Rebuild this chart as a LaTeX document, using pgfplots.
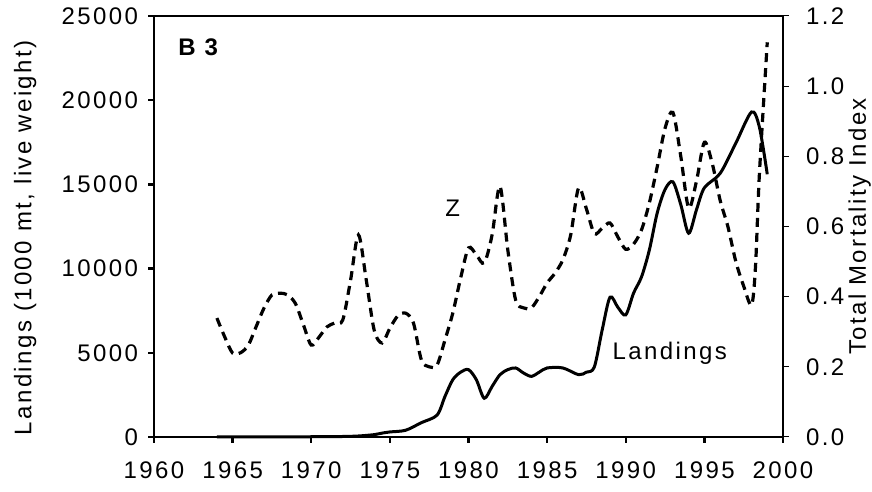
\documentclass[border=0pt]{standalone}
\usepackage{fontspec}
\setmainfont{Liberation Sans}[LetterSpace=10]
\usepackage{pgfplots}
\pgfplotsset{compat=1.18}

\begin{document}
\begin{tikzpicture}
\pgfplotsset{
  base/.style={
    scale only axis, width=314.5pt, height=210.5pt,
    xmin=1960, xmax=2000,
    tick align=outside, major tick length=3pt,
    ticklabel style={font=\fontsize{12}{14}\selectfont},
    label style={font=\fontsize{12}{14}\selectfont},
    /pgf/number format/assume math mode=true,
    /pgf/number format/1000 sep={},
    axis line style={line width=1.4pt},
  }
}
\begin{axis}[base,
  ymin=0, ymax=25000,
  xtick={1960,1965,...,2000}, ytick={0,5000,...,25000},
  xtick pos=lower, ytick pos=left,
  tick style={line width=1.2pt, black},
  xticklabel style={yshift=-6pt},
  yticklabel style={xshift=-1.5pt},
  scaled y ticks=false,
  ylabel={Landings (1000 mt, live weight)},
  ylabel style={at={(axis description cs:-0.205,0.473)}, anchor=center},
  clip=false,
]
\coordinate (bl) at (rel axis cs:0,0);
\coordinate (tr) at (rel axis cs:1,1);
% landings, solid
\addplot[black, line width=1.5pt, smooth, tension=0.5] coordinates {
  (1964,5)(1966,8)(1968,10)(1970,15)(1972,30)(1973,60)(1974,140)(1974.5,230)
  (1975,300)(1976,400)(1977,850)(1978,1300)(1978.5,2400)(1979,3400)(1979.5,3850)
  (1980,4000)(1980.5,3400)(1981,2300)(1981.5,3000)(1982,3700)(1982.5,4000)
  (1983,4100)(1983.5,3800)(1984,3600)(1984.5,3850)(1985,4100)(1986,4100)
  (1987,3700)(1987.5,3850)(1988,4150)(1988.5,6350)(1989,8300)(1989.5,7700)
  (1990,7250)(1990.5,8550)(1991,9500)(1991.5,11100)(1992,13300)(1992.5,14700)
  (1993,15150)(1993.5,13800)(1994,12100)(1994.5,13500)(1995,14800)(1996,15650)
  (1997,17450)(1998,19300)(1998.5,18400)(1999,15600)};
\node[font=\fontsize{12}{14}\selectfont\bfseries, anchor=west] at (axis cs:1961.1,23160) {B 3};
\node[font=\fontsize{12}{14}\selectfont] at (axis cs:1979,13600) {Z};
\node[font=\fontsize{12}{14}\selectfont] at (axis cs:1992.8,4990) {Landings};
\end{axis}
\begin{axis}[base,
  ymin=0, ymax=1.2,
  ytick={0,0.2,...,1.2},
  axis y line*=right, axis x line=none,
  tick style={line width=0.5pt, black},
  yticklabel style={xshift=5pt, /pgf/number format/.cd, fixed, fixed zerofill, precision=1},
  ylabel={Total Mortality Index},
  ylabel style={at={(axis description cs:1.122,0.5)}, anchor=center},
]
% total mortality index Z, dashed
\addplot[black, line width=1.6pt, dash pattern=on 4.5pt off 3pt, smooth, tension=0.5] coordinates {
  (1964,0.339)(1964.5,0.285)(1965,0.239)(1965.5,0.24)(1966,0.262)(1966.5,0.315)
  (1967,0.368)(1967.5,0.405)(1968,0.41)(1968.5,0.405)(1969,0.38)(1969.5,0.32)
  (1970,0.262)(1970.5,0.285)(1971,0.314)(1971.5,0.325)(1972,0.333)(1972.5,0.447)
  (1973,0.576)(1973.5,0.447)(1974,0.305)(1974.5,0.268)(1975,0.31)(1975.5,0.345)
  (1976,0.353)(1976.5,0.325)(1977,0.22)(1977.5,0.2)(1978,0.205)(1978.5,0.276)
  (1979,0.353)(1979.5,0.453)(1980,0.539)(1980.5,0.519)(1981,0.496)(1981.5,0.576)
  (1982,0.715)(1982.5,0.533)(1983,0.39)(1983.5,0.368)(1984,0.368)(1984.5,0.4)
  (1985,0.439)(1985.5,0.467)(1986,0.505)(1986.5,0.576)(1987,0.71)(1987.5,0.65)
  (1988,0.58)(1988.5,0.595)(1989,0.61)(1989.5,0.57)(1990,0.535)(1990.5,0.55)
  (1991,0.59)(1991.5,0.667)(1992,0.77)(1992.5,0.88)(1993,0.925)(1993.5,0.80)
  (1994,0.653)(1994.5,0.73)(1995,0.84)(1995.5,0.78)(1996,0.675)(1996.5,0.599)
  (1997,0.50)(1997.5,0.43)(1998,0.376)(1998.25,0.485)(1998.5,0.75)(1999,1.125)};
\end{axis}
\pgfresetboundingbox
\path (bl) ++(-77pt,-27.5pt) coordinate (c1);
\path (tr) ++(44.5pt,8pt) coordinate (c2);
\path[use as bounding box] (c1) rectangle (c2);
\end{tikzpicture}
\end{document}
